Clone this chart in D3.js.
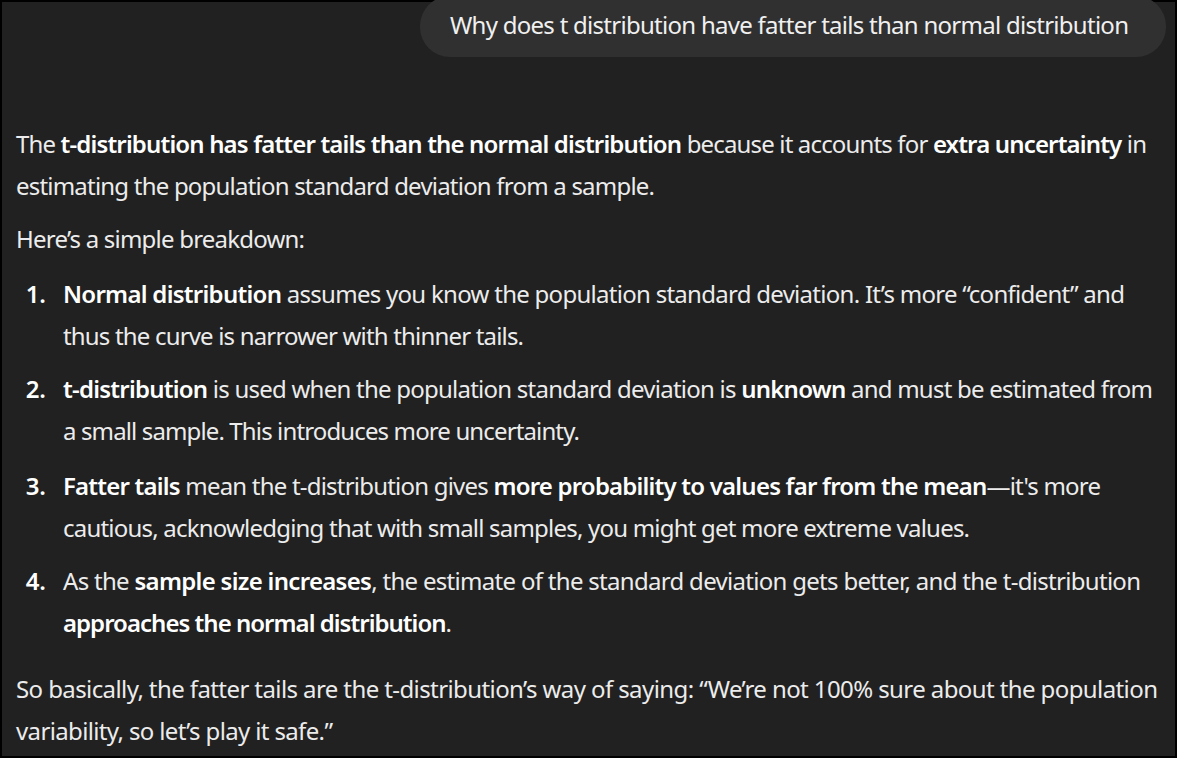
<!DOCTYPE html>
<html lang="en">
<head>
<meta charset="utf-8">
<script src="https://d3js.org/d3.v7.min.js"></script>
<style>
  body { margin: 0; background: #000; }
  text { font-family: "Noto Sans", "Open Sans", sans-serif; }
</style>
</head>
<body>
<div id="chat"></div>
<script>

// text runs: [string, bold]
const question = "Why does t distribution have fatter tails than normal distribution";

const introLines = [
  [["The ", 0], ["t-distribution has fatter tails than the normal distribution", 1], [" because it accounts for ", 0], ["extra uncertainty", 1], [" in", 0]],
  [["estimating the population standard deviation from a sample.", 0]]
];

const breakdownLines = [
  [["Here\u2019s a simple breakdown:", 0]]
];

const itemNumbers = ["1.", "2.", "3.", "4."];

const itemLines = [
  [
    [["Normal distribution", 1], [" assumes you know the population standard deviation. It\u2019s more \u201cconfident\u201d and", 0]],
    [["thus the curve is narrower with thinner tails.", 0]]
  ],
  [
    [["t-distribution", 1], [" is used when the population standard deviation is ", 0], ["unknown", 1], [" and must be estimated from", 0]],
    [["a small sample. This introduces more uncertainty.", 0]]
  ],
  [
    [["Fatter tails", 1], [" mean the t-distribution gives ", 0], ["more probability to values far from the mean", 1], ["\u2014it's more", 0]],
    [["cautious, acknowledging that with small samples, you might get more extreme values.", 0]]
  ],
  [
    [["As the ", 0], ["sample size increases", 1], [", the estimate of the standard deviation gets better, and the t-distribution", 0]],
    [["approaches the normal distribution", 1], [".", 0]]
  ]
];

const closingLines = [
  [["So basically, the fatter tails are the t-distribution\u2019s way of saying: \u201cWe\u2019re not 100% sure about the population", 0]],
  [["variability, so let\u2019s play it safe.\u201d", 0]]
];

// layout
const W = 1177, H = 758;
const fontSize = 24, lineGap = 42;
const textX = 16, itemX = 63, numEnd = 46;
const blockTops = { intro: 153, breakdown: 248, items: [303, 398, 495, 590], closing: 698 };
const lineEnds = {
  intro: [1147, 655],
  breakdown: [305],
  items: [[1125, 524], [1153, 580], [1101, 970], [1141, 452]],
  closing: [1158, 333]
};

const svg = d3.select("#chat")
  .append("svg")
    .attr("width", W)
    .attr("height", H)
    .style("display", "block");

svg.append("rect")
  .attr("x", 2).attr("y", 2)
  .attr("width", W - 4).attr("height", H - 4)
  .attr("fill", "#212121");

// user bubble
svg.append("rect")
  .attr("x", 420).attr("y", -4)
  .attr("width", 746).attr("height", 61)
  .attr("rx", 30)
  .attr("fill", "#303030");

const q = svg.append("text")
  .attr("x", 450).attr("y", 34)
  .attr("fill", "#f0f0f0")
  .style("font-size", fontSize + "px")
  .text(question);
fitLine(q, 450, 1129);

function drawLine(runs, x, y, right) {
  const t = svg.append("text")
    .attr("x", x).attr("y", y)
    .attr("fill", "#ececec")
    .style("font-size", fontSize + "px");
  t.selectAll("tspan")
    .data(runs)
    .join("tspan")
      .attr("font-weight", d => d[1] ? 600 : 400)
      .attr("fill", d => d[1] ? "#ffffff" : null)
      .text(d => d[0]);
  fitLine(t, x, right);
}

// stretch/squeeze letter spacing so the line ends where the original does
function fitLine(sel, x, right) {
  const node = sel.node();
  const natural = node.getComputedTextLength();
  const n = sel.text().length;
  const ls = (right - x - natural) / Math.max(1, n - 1);
  sel.attr("letter-spacing", ls.toFixed(3));
}

introLines.forEach((l, i) => drawLine(l, textX, blockTops.intro + i * lineGap, lineEnds.intro[i]));
breakdownLines.forEach((l, i) => drawLine(l, textX, blockTops.breakdown + i * lineGap, lineEnds.breakdown[i]));

itemLines.forEach((lines, k) => {
  svg.append("text")
    .attr("x", numEnd).attr("y", blockTops.items[k])
    .attr("text-anchor", "end")
    .attr("font-weight", 600)
    .attr("fill", "#ffffff")
    .style("font-size", fontSize + "px")
    .text(itemNumbers[k]);
  lines.forEach((l, i) => drawLine(l, itemX, blockTops.items[k] + i * lineGap, lineEnds.items[k][i]));
});

closingLines.forEach((l, i) => drawLine(l, textX, blockTops.closing + i * lineGap, lineEnds.closing[i]));

</script>
</body>
</html>
